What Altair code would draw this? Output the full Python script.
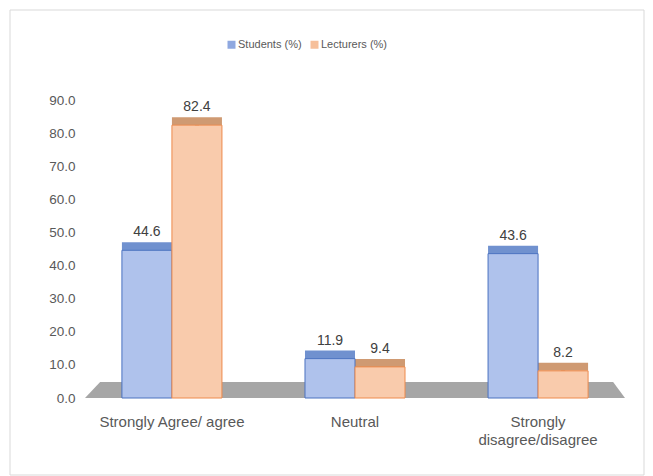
import altair as alt
import pandas as pd

categories = ["Strongly Agree/ agree", "Neutral", "Strongly disagree/disagree"]
series_names = ["Students (%)", "Lecturers (%)"]
students = [44.6, 11.9, 43.6]
lecturers = [82.4, 9.4, 8.2]
y_ticks = [0, 10, 20, 30, 40, 50, 60, 70, 80, 90]

rows = []
for c, s, l in zip(categories, students, lecturers):
    rows.append({"category": c, "series": series_names[0], "value": s})
    rows.append({"category": c, "series": series_names[1], "value": l})
df = pd.DataFrame(rows)

FILL = ["#afc2ec", "#f9cbac"]
STROKE = ["#4a72c0", "#ee8a4c"]
TOP = ["#7091cf", "#cf9a72"]
SIDE = ["#3d5fa3", "#c77a47"]
LEG = ["#8fa8e0", "#f6bf9a"]
FONT = "Liberation Sans"

x_enc = alt.X(
    "category:N",
    sort=categories,
    scale=alt.Scale(paddingInner=0.4536, paddingOuter=0.229),
    axis=alt.Axis(
        title=None, domain=False, ticks=False, labelAngle=0,
        labelFont=FONT, labelFontSize=15, labelColor="#595959",
        labelPadding=16, labelLineHeight=18, labelBaseline="top",
        labelExpr="datum.value == 'Strongly disagree/disagree' ? ['Strongly', 'disagree/disagree'] : datum.value",
    ),
)
xo = alt.XOffset("series:N", sort=series_names, scale=alt.Scale(domain=series_names, paddingInner=0))
y_scale = alt.Scale(domain=[0, 90], nice=False)
y_enc = alt.Y(
    "value:Q",
    scale=y_scale,
    axis=alt.Axis(
        title=None, values=y_ticks, format=".1f", domain=False, ticks=False, grid=False,
        labelOverlap=False, labelFont=FONT, labelFontSize=13.5, labelColor="#595959",
        labelPadding=5,
    ),
)

base = alt.Chart(df)

# chart border
border = alt.Chart(pd.DataFrame({"k": [0]})).mark_rect(
    fill=None, stroke="#d9d9d9", strokeWidth=1, clip=False
).encode(x=alt.value(-70), x2=alt.value(564), y=alt.value(-90), y2=alt.value(375))

# floor
floor = alt.Chart(pd.DataFrame({"k": [0]})).mark_point(
    shape="M -0.944 -0.0296 L 0.956 -0.0296 L 1 0.0296 L -1 0.0296 Z",
    filled=True, color="#a6a6a6", opacity=1, size=291600, clip=False,
).encode(x=alt.value(275), y=alt.value(290))

# legend carrier (invisible points) so the legend gets its own colours
legend_layer = base.mark_square(opacity=0, size=0).encode(
    color=alt.Color("series:N", sort=series_names,
                    scale=alt.Scale(domain=series_names, range=LEG),
                    legend=alt.Legend(
                        title=None, orient="none", direction="horizontal",
                        legendX=146, legendY=-61, symbolType="square", symbolSize=64,
                        symbolOpacity=1, symbolStrokeWidth=0,
                        labelFont=FONT, labelFontSize=11,
                        labelColor="#595959", columnPadding=7, labelOffset=1,
                    )),
)

bars = base.mark_bar(strokeWidth=1).encode(
    x=x_enc,
    xOffset=xo,
    y=y_enc,
    y2=alt.datum(0),
    color=alt.Color("series:N", sort=series_names,
                    scale=alt.Scale(domain=series_names, range=FILL), legend=None),
    stroke=alt.Stroke("series:N", sort=series_names,
                      scale=alt.Scale(domain=series_names, range=STROKE), legend=None),
)

side = base.transform_filter(alt.datum.series == series_names[1]).mark_bar(
    width=4, xOffset=27, y2Offset=-1, yOffset=-3, color=SIDE[1]
).encode(
    x=x_enc, xOffset=xo,
    y=y_enc,
    y2=alt.datum(0),
)

tops = base.mark_bar(yOffset=-8, y2Offset=0, xOffset=3, opacity=1).encode(
    x=x_enc, xOffset=xo,
    y=y_enc,
    y2="value:Q",
    color=alt.Color("series:N", scale=alt.Scale(domain=series_names, range=TOP), legend=None),
)

labels = base.mark_text(
    dy=-11, baseline="bottom", font=FONT, fontSize=14, color="#404040"
).encode(
    x=x_enc, xOffset=xo,
    y=y_enc,
    text=alt.Text("value:Q", format=".1f"),
)

chart = alt.layer(border, floor, side, tops, bars, labels, legend_layer).resolve_scale(
    color="independent"
).properties(
    width=550, height=298,
    autosize=alt.AutoSizeParams(type="none"),
    padding={"left": 80, "top": 100, "right": 23, "bottom": 78},
    background="white",
).configure_view(stroke=None)

chart.save("out.html", embed_options={"renderer": "svg", "actions": False})
